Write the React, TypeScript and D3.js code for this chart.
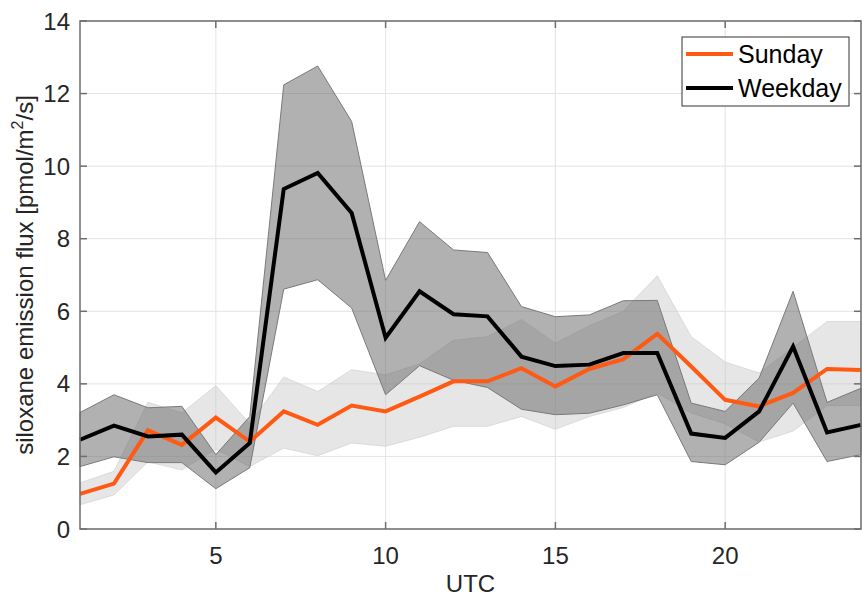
import * as d3 from "d3";

const hours = [1, 2, 3, 4, 5, 6, 7, 8, 9, 10, 11, 12, 13, 14, 15, 16, 17, 18, 19, 20, 21, 22, 23, 24];

const sundayMean = [0.97, 1.25, 2.72, 2.32, 3.07, 2.41, 3.24, 2.87, 3.4, 3.24, 3.65, 4.07, 4.07, 4.43, 3.93, 4.41, 4.68, 5.38, 4.48, 3.56, 3.38, 3.75, 4.41, 4.38];
const sundayUpper = [1.27, 1.59, 3.49, 3.2, 3.95, 2.9, 4.19, 3.79, 4.39, 4.25, 4.55, 5.2, 5.3, 5.77, 5.12, 5.6, 6.0, 6.98, 5.3, 4.6, 4.3, 5.0, 5.72, 5.72];
const sundayLower = [0.67, 0.94, 1.85, 1.63, 2.2, 1.72, 2.23, 2.02, 2.37, 2.28, 2.53, 2.83, 2.83, 3.1, 2.75, 3.1, 3.35, 3.75, 3.2, 2.9, 2.4, 2.7, 3.4, 3.4];

const weekdayMean = [2.46, 2.85, 2.55, 2.6, 1.56, 2.37, 9.37, 9.81, 8.71, 5.27, 6.55, 5.92, 5.86, 4.75, 4.49, 4.53, 4.85, 4.85, 2.63, 2.51, 3.24, 5.03, 2.66, 2.87];
const weekdayUpper = [3.21, 3.7, 3.34, 3.38, 2.05, 3.1, 12.24, 12.76, 11.23, 6.85, 8.47, 7.69, 7.62, 6.13, 5.85, 5.9, 6.29, 6.3, 3.47, 3.24, 4.16, 6.55, 3.49, 3.88];
const weekdayLower = [1.72, 1.99, 1.83, 1.83, 1.11, 1.69, 6.61, 6.87, 6.09, 3.7, 4.5, 4.1, 3.9, 3.3, 3.15, 3.19, 3.42, 3.7, 1.86, 1.77, 2.39, 3.47, 1.86, 2.05];

const xTicks = [5, 10, 15, 20];
const yTicks = [0, 2, 4, 6, 8, 10, 12, 14];
const legendItems = ["Sunday", "Weekday"];

const W = 862;
const H = 598;
const margin = { top: 21, right: 1, bottom: 69, left: 80 };
const FONT = "'Liberation Sans', Arial, Helvetica, sans-serif";
const TEXT = "#262626";
const AXIS = "#6e6e6e";
const ORANGE = "#ff5a14";

export default function App() {
  const x = d3.scaleLinear().domain([1, 24]).range([margin.left, W - margin.right]);
  const y = d3.scaleLinear().domain([0, 14]).range([H - margin.bottom, margin.top]);
  const [x0, x1] = x.range();
  const [y0, y1] = y.range();

  const band = (lo: number[], hi: number[]) =>
    d3.area<number>()
      .x((d) => x(d))
      .y0((_, i) => y(lo[i]))
      .y1((_, i) => y(hi[i]))(hours) || "";

  const line = (vals: number[]) =>
    d3.line<number>()
      .x((d) => x(d))
      .y((_, i) => y(vals[i]))(hours) || "";

  const colors = [ORANGE, "#000"];

  return (
    <svg width={W} height={H} style={{ position: "absolute", left: 0, top: 0, background: "#fff" }}>
      {/* grid */}
      {yTicks.map((t) => (
        <line key={"gy" + t} x1={x0} x2={x1} y1={y(t)} y2={y(t)} stroke="#e3e3e3" strokeWidth={1} />
      ))}
      {xTicks.map((t) => (
        <line key={"gx" + t} x1={x(t)} x2={x(t)} y1={y0} y2={y1} stroke="#e3e3e3" strokeWidth={1} />
      ))}

      {/* shaded ranges */}
      <path d={band(sundayLower, sundayUpper)} fill="#c8c8c8" fillOpacity={0.45} stroke="#d4d4d4" strokeWidth={0.8} />
      <path d={band(weekdayLower, weekdayUpper)} fill="#6a6a6a" fillOpacity={0.52} stroke="#7a7a7a" strokeWidth={1} />

      {/* mean lines */}
      <path d={line(sundayMean)} fill="none" stroke={ORANGE} strokeWidth={4} strokeLinejoin="miter" />
      <path d={line(weekdayMean)} fill="none" stroke="#000" strokeWidth={4} strokeLinejoin="miter" />

      {/* axes box */}
      <rect x={x0} y={y1} width={x1 - x0} height={y0 - y1} fill="none" stroke={AXIS} strokeWidth={1.5} />
      {xTicks.map((t) => (
        <g key={"xt" + t}>
          <line x1={x(t)} x2={x(t)} y1={y0} y2={y0 - 7} stroke={AXIS} strokeWidth={1.5} />
          <line x1={x(t)} x2={x(t)} y1={y1} y2={y1 + 7} stroke={AXIS} strokeWidth={1.5} />
          <text x={x(t)} y={564} textAnchor="middle" fontFamily={FONT} fontSize={24} fill={TEXT}>{t}</text>
        </g>
      ))}
      {yTicks.map((t) => (
        <g key={"yt" + t}>
          <line x1={x0} x2={x0 + 7} y1={y(t)} y2={y(t)} stroke={AXIS} strokeWidth={1.5} />
          <line x1={x1} x2={x1 - 7} y1={y(t)} y2={y(t)} stroke={AXIS} strokeWidth={1.5} />
          <text x={70} y={y(t)} dy="0.36em" textAnchor="end" fontFamily={FONT} fontSize={24} fill={TEXT}>{t}</text>
        </g>
      ))}

      {/* axis labels */}
      <text x={(x0 + x1) / 2} y={592} textAnchor="middle" fontFamily={FONT} fontSize={24} fill={TEXT}>UTC</text>
      <text transform={`translate(33,${(y0 + y1) / 2}) rotate(-90)`} textAnchor="middle" fontFamily={FONT} fontSize={24} fill={TEXT}>
        siloxane emission flux [pmol/m<tspan dy={-10} fontSize={16}>2</tspan><tspan dy={10}>/s]</tspan>
      </text>

      {/* legend */}
      <rect x={682} y={37} width={167} height={69} fill="#fff" stroke="#333" strokeWidth={1} />
      {legendItems.map((name, i) => (
        <g key={name}>
          <line x1={686} x2={733} y1={54 + i * 34} y2={54 + i * 34} stroke={colors[i]} strokeWidth={4} />
          <text x={738} y={54 + i * 34} dy="0.36em" fontFamily={FONT} fontSize={25} fill="#000">{name}</text>
        </g>
      ))}
    </svg>
  );
}
